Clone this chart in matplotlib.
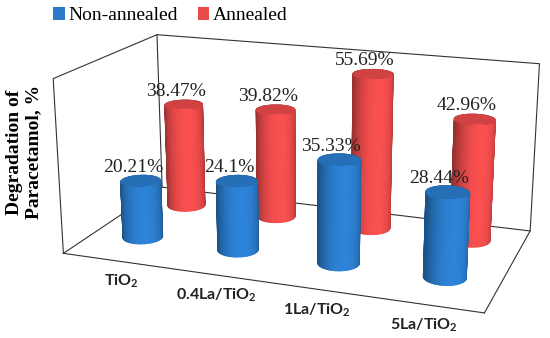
import numpy as np
import matplotlib
matplotlib.use('Agg')
import matplotlib.pyplot as plt
import matplotlib.colors as mcolors
from matplotlib.patches import Patch
from mpl_toolkits.mplot3d.art3d import Poly3DCollection

plt.rcParams['mathtext.fontset'] = 'custom'
plt.rcParams['mathtext.bf'] = 'Lato:bold'
plt.rcParams['mathtext.rm'] = 'Lato'

categories = ['TiO$_{\\mathbf{2}}$', '0.4La/TiO$_{\\mathbf{2}}$',
              '1La/TiO$_{\\mathbf{2}}$', '5La/TiO$_{\\mathbf{2}}$']
series_names = ['Non-annealed', 'Annealed']
non_annealed = [20.21, 24.1, 35.33, 28.44]
annealed = [38.47, 39.82, 55.69, 42.96]
labels_non = ['20.21%', '24.1%', '35.33%', '28.44%']
labels_ann = ['38.47%', '39.82%', '55.69%', '42.96%']
series_colors = ['#2A7AC9', '#E84A4A']

ELEV, AZIM = 17, -70
XL, YL, ZL = (-0.5, 3.5), (-0.65, 1.45), (0, 60)

fig = plt.figure(figsize=(5.5, 3.38), dpi=100)
CX, CY = 0.533, 0.505
ax = fig.add_axes([CX - 1.0, CY - 1.0, 2.0, 2.0], projection='3d',
                  proj_type='persp', focal_length=0.35)
ax.view_init(elev=ELEV, azim=AZIM)
ax.computed_zorder = False


def cylinder(ax, xc, yc, h, r, color, z, n=72):
    th = np.linspace(0, 2 * np.pi, n + 1)
    xs = xc + r * np.cos(th)
    ys = yc + r * np.sin(th)
    base = np.array(mcolors.to_rgb(color))
    az = np.deg2rad(AZIM)
    v = np.array([np.cos(az), np.sin(az)])
    right = np.array([v[1], -v[0]])
    L = v * np.cos(np.deg2rad(15)) - right * np.sin(np.deg2rad(15))
    polys, fcs = [], []
    for k in range(n):
        polys.append([(xs[k], ys[k], 0), (xs[k + 1], ys[k + 1], 0),
                      (xs[k + 1], ys[k + 1], h), (xs[k], ys[k], h)])
        mid = 0.5 * (th[k] + th[k + 1])
        nrm = np.array([np.cos(mid), np.sin(mid)])
        d = max(np.dot(nrm, L), 0)
        inten = 0.66 + 0.42 * d ** 1.2
        fcs.append(np.clip(base * inten, 0, 1))
    polys.append([(x, y, h) for x, y in zip(xs[:-1], ys[:-1])])
    fcs.append(np.clip(base * 0.9, 0, 1))
    pc = Poly3DCollection(polys, facecolors=fcs, edgecolors=fcs,
                          linewidths=0.8, zorder=z)
    ax.add_collection3d(pc)


# box outline (left wall, back wall, floor)
lk = dict(color='#333333', lw=0.8, zorder=1)
x0, x1 = XL; y0, y1 = YL; z0, z1 = ZL
ax.plot([x0, x0, x0, x0, x0], [y0, y1, y1, y0, y0], [z0, z0, z1, z1, z0], **lk)
ax.plot([x0, x1, x1], [y1, y1, y1], [z1, z1, z0], **lk)
ax.plot([x0, x1, x1], [y1, y1, y0], [z0, z0, z0], **lk)
ax.plot([x0, x1], [y0, y0], [z0, z0], **lk)

R = 0.19
for i, v in enumerate(annealed):
    cylinder(ax, i, 1, v, R, series_colors[1], 2 + i * 0.01)
for i, v in enumerate(non_annealed):
    cylinder(ax, i, 0, v, R, series_colors[0], 3 + i * 0.01)

for i, (v, t) in enumerate(zip(annealed, labels_ann)):
    ax.text(i - 0.08, 1, v + 1.5, t, ha='center', va='bottom', fontsize=14,
            fontfamily='Liberation Serif', color='#222222', zorder=5)
for i, (v, t) in enumerate(zip(non_annealed, labels_non)):
    ax.text(i - 0.08, 0, v + 1.5, t, ha='center', va='bottom', fontsize=14,
            fontfamily='Liberation Serif', color='#222222', zorder=5)
for i, c in enumerate(categories):
    ax.text(i + 0.1 - 0.04 * i, YL[0], -4, c, ha='center', va='top', fontsize=11.5,
            fontweight='bold', fontfamily='Lato', color='#222222', zorder=5)

ax.set_xlim(*XL)
ax.set_ylim(*YL)
ax.set_zlim(*ZL)
ax.set_box_aspect((4, 2.1, 1.68), zoom=0.736)
ax.grid(False)
ax.set_axis_off()

handles = [Patch(facecolor=c, edgecolor='none') for c in series_colors]
fig.legend(handles, series_names, loc='upper center', bbox_to_anchor=(0.31, 1.03),
           ncol=2, frameon=False, prop={'family': 'Liberation Serif', 'size': 14},
           handlelength=0.6, handleheight=0.6, handletextpad=0.2, columnspacing=1.0)

fig.text(0.044, 0.55, 'Degradation of\nParacetamol, %', rotation=90, ha='center',
         va='center', fontsize=14, fontweight='bold', family='Liberation Serif',
         linespacing=1.15)

fig.savefig('out.png', dpi=100)
